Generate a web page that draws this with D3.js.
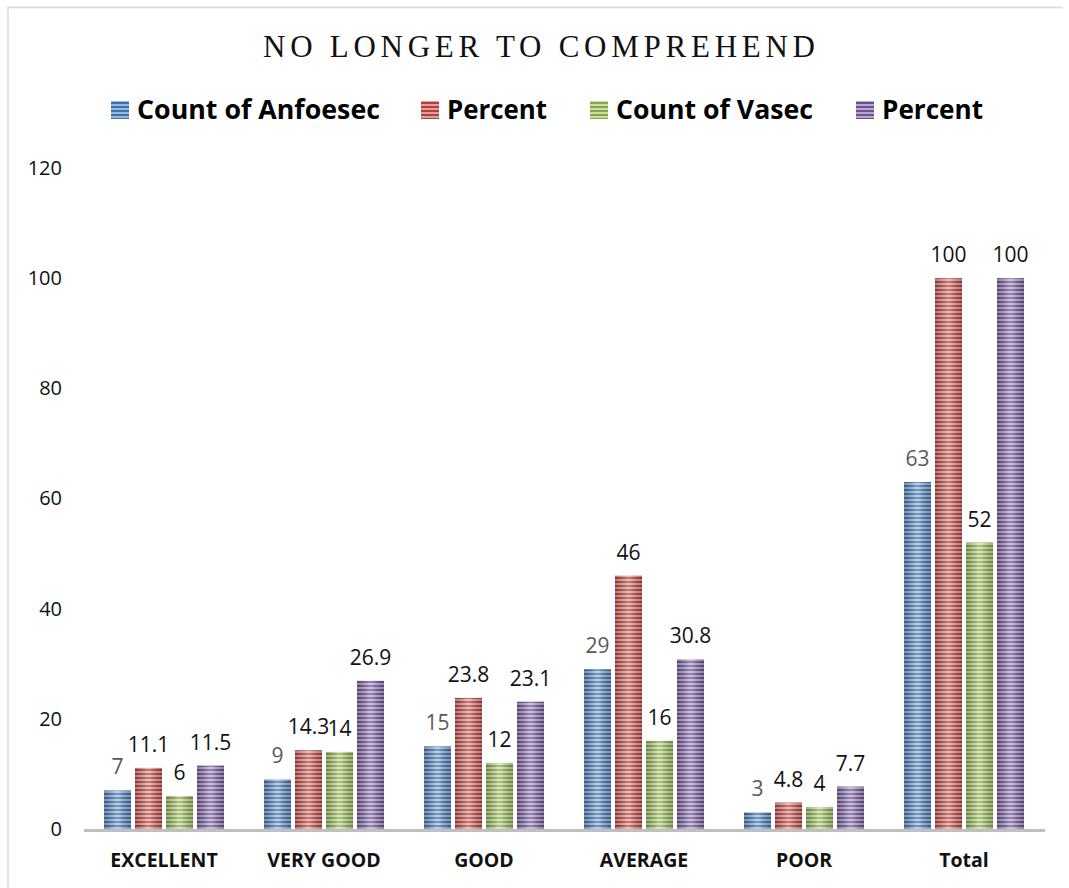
<!DOCTYPE html>
<html>
<head>
<meta charset="utf-8">
<script src="https://cdn.jsdelivr.net/npm/d3@7"></script>
<style>
  body { margin: 0; background: #fff; }
  svg { display: block; }
</style>
</head>
<body>
<script>
// data
var categories = ['EXCELLENT', 'VERY GOOD', 'GOOD', 'AVERAGE', 'POOR', 'Total'];
var seriesNames = ['Count of Anfoesec', 'Percent', 'Count of Vasec', 'Percent'];
var anfoesecCount = [7, 9, 15, 29, 3, 63];
var anfoesecPercent = [11.1, 14.3, 23.8, 46, 4.8, 100];
var vasecCount = [6, 14, 12, 16, 4, 52];
var vasecPercent = [11.5, 26.9, 23.1, 30.8, 7.7, 100];
var yTicks = [0, 20, 40, 60, 80, 100, 120];

var seriesValues = [anfoesecCount, anfoesecPercent, vasecCount, vasecPercent];
var baseColors = ['#3f6fa8', '#b23f3c', '#86a547', '#6b5290'];
var lightColors = ['#9ab8de', '#e0a09e', '#c9dda6', '#b6a6d0'];
var labelColors = ['#595959', '#111', '#111', '#111'];

var W = 1069, H = 888;
var plotLeft = 84, plotRight = 1044, plotTop = 168, plotBottom = 829;

var svg = d3.select('body').append('svg')
    .attr('width', W)
    .attr('height', H);

var defs = svg.append('defs');

// striped fills
baseColors.forEach(function (c, i) {
    var p = defs.append('pattern')
        .attr('id', 'stripe' + i)
        .attr('patternUnits', 'userSpaceOnUse')
        .attr('width', 10)
        .attr('height', 4)
        .attr('y', plotBottom);
    p.append('rect').attr('width', 10).attr('height', 4).attr('fill', lightColors[i]);
    p.append('rect').attr('width', 10).attr('height', 2).attr('fill', c);
});

// cylinder shading
var shade = defs.append('linearGradient')
    .attr('id', 'shade')
    .attr('x1', 0).attr('x2', 1).attr('y1', 0).attr('y2', 0);
shade.append('stop').attr('offset', 0).attr('stop-color', '#000').attr('stop-opacity', 0.2);
shade.append('stop').attr('offset', 0.45).attr('stop-color', '#fff').attr('stop-opacity', 0.28);
shade.append('stop').attr('offset', 0.55).attr('stop-color', '#fff').attr('stop-opacity', 0.28);
shade.append('stop').attr('offset', 1).attr('stop-color', '#000').attr('stop-opacity', 0.2);

// frame
svg.append('path')
    .attr('d', 'M8,888 V7.5 H1063')
    .attr('fill', 'none')
    .attr('stroke', '#d9d9d9')
    .attr('stroke-width', 1.5);

// title
svg.append('text')
    .attr('x', 539)
    .attr('y', 57)
    .attr('text-anchor', 'middle')
    .attr('font-family', '"Liberation Serif", "Times New Roman", serif')
    .attr('font-size', 31)
    .attr('textLength', 552)
    .attr('lengthAdjust', 'spacing')
    .attr('fill', '#111')
    .text('NO LONGER TO COMPREHEND');

// legend
var legendX = [111, 421, 590, 856];
var legendW = [243, 100, 197, 101];
var legend = svg.append('g').selectAll('g')
    .data(seriesNames)
    .enter().append('g')
    .attr('transform', function (d, i) { return 'translate(' + legendX[i] + ',101)'; });

legend.append('rect')
    .attr('width', 18)
    .attr('height', 18)
    .attr('fill', function (d, i) { return 'url(#stripe' + i + ')'; });

legend.append('text')
    .attr('x', 26)
    .attr('y', 18)
    .attr('font-family', '"Open Sans", sans-serif')
    .attr('font-weight', 'bold')
    .attr('font-size', 26)
    .attr('textLength', function (d, i) { return legendW[i]; })
    .attr('lengthAdjust', 'spacingAndGlyphs')
    .attr('fill', '#000')
    .text(function (d) { return d; });

// scales
var x0 = d3.scaleBand()
    .domain(categories)
    .range([plotLeft, plotRight])
    .paddingInner(0.25)
    .paddingOuter(0.125);

var x1 = d3.scaleBand()
    .domain(d3.range(seriesNames.length))
    .range([0, x0.bandwidth()])
    .paddingInner(4 / 31);

var y = d3.scaleLinear()
    .domain([0, 120])
    .range([plotBottom, plotTop]);

// y axis labels (no axis line)
var yAxis = svg.append('g')
    .attr('transform', 'translate(62,0)')
    .call(d3.axisLeft(y).tickValues(yTicks).tickSize(0).tickPadding(0));
yAxis.select('.domain').remove();
yAxis.selectAll('text')
    .attr('font-family', '"Open Sans", sans-serif')
    .attr('font-size', 20)
    .attr('fill', '#111');

// bars
var groups = svg.append('g').selectAll('g')
    .data(categories)
    .enter().append('g')
    .attr('transform', function (d) { return 'translate(' + x0(d) + ',0)'; });

var cells = groups.selectAll('g')
    .data(function (d, ci) {
        return seriesValues.map(function (vals, si) { return {s: si, v: vals[ci]}; });
    })
    .enter().append('g');

cells.append('rect')
    .attr('x', function (d) { return x1(d.s); })
    .attr('y', function (d) { return y(d.v); })
    .attr('width', x1.bandwidth())
    .attr('height', function (d) { return plotBottom - y(d.v); })
    .attr('fill', function (d) { return 'url(#stripe' + d.s + ')'; });

cells.append('rect')
    .attr('x', function (d) { return x1(d.s); })
    .attr('y', function (d) { return y(d.v); })
    .attr('width', x1.bandwidth())
    .attr('height', function (d) { return plotBottom - y(d.v); })
    .attr('fill', 'url(#shade)');

cells.append('text')
    .attr('x', function (d) { return x1(d.s) + x1.bandwidth() / 2; })
    .attr('y', function (d) { return y(d.v) - 16; })
    .attr('text-anchor', 'middle')
    .attr('font-family', '"Open Sans", sans-serif')
    .attr('font-size', 21)
    .attr('fill', function (d) { return labelColors[d.s]; })
    .text(function (d) { return d.v; });

// baseline
svg.append('line')
    .attr('x1', plotLeft)
    .attr('x2', plotRight + 1)
    .attr('y1', plotBottom + 1.5)
    .attr('y2', plotBottom + 1.5)
    .attr('stroke', '#bfbfbf')
    .attr('stroke-width', 3);

// category labels
var xAxis = svg.append('g')
    .attr('transform', 'translate(0,' + plotBottom + ')')
    .call(d3.axisBottom(x0).tickSize(0).tickPadding(0));
xAxis.select('.domain').remove();
xAxis.selectAll('text')
    .attr('dy', 0)
    .attr('y', 38)
    .attr('font-family', '"Open Sans", sans-serif')
    .attr('font-weight', 'bold')
    .attr('font-size', 19.5)
    .attr('fill', '#111');
</script>
</body>
</html>
